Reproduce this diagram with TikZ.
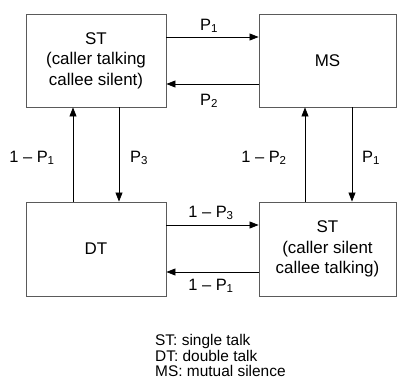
\documentclass[tikz,border=0pt]{standalone}
\usepackage{fontspec}
\setmainfont{Liberation Sans}
\usetikzlibrary{arrows.meta}
\definecolor{boxgray}{RGB}{90,90,90}
\begin{document}
\begin{tikzpicture}[x=1bp,y=-1bp,
  box/.style={draw=boxgray, line width=0.9bp, inner sep=0pt, align=center,
    font=\fontsize{17}{20.5}\selectfont},
  arr/.style={line width=0.8bp, -{Triangle[length=9bp,width=7bp]}},
  lbl/.style={font=\fontsize{16.5}{20}\selectfont, anchor=base, inner sep=0pt},
  leg/.style={font=\fontsize{15.5}{16}\selectfont, anchor=base west, inner sep=0pt}]
\useasboundingbox (0,0) rectangle (397,379);
\node[box, minimum width=140bp, minimum height=93bp] (st) at (96,60.5) {ST\\(caller talking\\callee silent)};
\node[box, minimum width=137bp, minimum height=93bp] (ms) at (327.5,60.5) {MS};
\node[box, minimum width=140bp, minimum height=94bp] (dt) at (96,249) {DT};
\node[box, minimum width=137bp, minimum height=94bp] (st2) at (327.5,249) {ST\\(caller silent\\callee talking)};
\draw[arr] ([yshift=23.5bp]st.east) -- ([yshift=23.5bp]ms.west);
\draw[arr] ([yshift=-23.5bp]ms.west) -- ([yshift=-23.5bp]st.east);
\draw[arr] ([xshift=-23bp]dt.north) -- ([xshift=-23bp]st.south);
\draw[arr] ([xshift=23bp]st.south) -- ([xshift=23bp]dt.north);
\draw[arr] ([xshift=-22.5bp]st2.north) -- ([xshift=-22.5bp]ms.south);
\draw[arr] ([xshift=24.5bp]ms.south) -- ([xshift=24.5bp]st2.north);
\draw[arr] ([yshift=24bp]dt.east) -- ([yshift=24bp]st2.west);
\draw[arr] ([yshift=-23bp]st2.west) -- ([yshift=-23bp]dt.east);
\node[lbl] (la) at (209,30) {P\textsubscript{1}};
\node[lbl] (lb) at (209,105) {P\textsubscript{2}};
\node[lbl] (lc) at (32,162) {1 – P\textsubscript{1}};
\node[lbl] (ld) at (139,162) {P\textsubscript{3}};
\node[lbl] (le) at (264,162) {1 – P\textsubscript{2}};
\node[lbl] (lf) at (371,162) {P\textsubscript{1}};
\node[lbl] (lg) at (211,217) {1 – P\textsubscript{3}};
\node[lbl] (lh) at (211,290) {1 – P\textsubscript{1}};
\node[leg] (leg1) at (155,345.5) {ST: single talk};
\node[leg] (leg2) at (155,361) {DT: double talk};
\node[leg] (leg3) at (155,376) {MS: mutual silence};
\end{tikzpicture}
\end{document}
